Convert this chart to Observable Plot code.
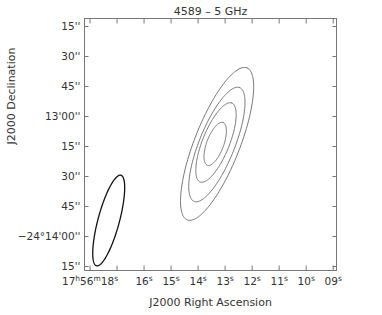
<!DOCTYPE html>
<html>
<head>
<meta charset="utf-8">
<script src="https://cdn.jsdelivr.net/npm/d3@7"></script>
<script src="https://cdn.jsdelivr.net/npm/@observablehq/plot@0.6"></script>
<style>
  html, body { margin: 0; padding: 0; background: #fff; }
  #chart svg { display: block; }
</style>
</head>
<body>
<div id="chart"></div>
<script>
// Title and axis labels
const title = "4589 \u2013 5 GHz";
const xLabel = "J2000 Right Ascension";
const yLabel = "J2000 Declination";

// RA ticks: seconds of 17h56m; labels (h/m/s rendered as superscripts)
const raTicks = [18, 17, 16, 15, 14, 13, 12, 11, 10, 9];
const raLabels = ["17h56m18s", "", "16s", "15s", "14s", "13s", "12s", "11s", "10s", "09s"];

// Dec ticks: arcsec south of -24°12'00''
const decTicks = [15, 30, 45, 60, 75, 90, 105, 120, 135];
const decLabels = ["15''", "30''", "45''", "13'00''", "15''", "30''", "45''", "\u221224\u00b014'00''", "15''"];

// Visible window
const raDomain = [18.204, 8.878];
const decDomain = [137, 11];

// Source contours (elliptical): centre RA (s), centre Dec (arcsec), semi-major, semi-minor (arcsec), PA (deg E of N)
const srcRA = [13.297, 13.305, 13.338, 13.367];
const srcDec = [73.7, 74.0, 73.0, 73.7];
const srcMajor = [40.9, 30.7, 21.3, 11.4];
const srcMinor = [11.5, 9.0, 6.8, 4.3];
const srcPA = [-21.7, -22.1, -22.2, -20.5];

// Beam
const beamRA = [17.308];
const beamDec = [112];
const beamMajor = [23.45];
const beamMinor = [5.4];
const beamPA = [-15.3];

const cosDec = Math.cos(24.22 * Math.PI / 180);

function ellipse(id, ra0, dec0, a, b, pa) {
  const pts = [];
  const p = pa * Math.PI / 180;
  const n = 180;
  for (let k = 0; k <= n; k++) {
    const t = 2 * Math.PI * k / n;
    const u = a * Math.cos(t), v = b * Math.sin(t);
    const dN = u * Math.cos(p) - v * Math.sin(p);
    const dE = u * Math.sin(p) + v * Math.cos(p);
    pts.push({id, ra: ra0 + dE / (15 * cosDec), dec: dec0 - dN});
  }
  return pts;
}

const srcPts = srcRA.flatMap((r, i) => ellipse(i, r, srcDec[i], srcMajor[i], srcMinor[i], srcPA[i]));
const beamPts = beamRA.flatMap((r, i) => ellipse(i, r, beamDec[i], beamMajor[i], beamMinor[i], beamPA[i]));

const textColor = "#333";
const frameColor = "#777";

const chart = Plot.plot({
  width: 382,
  height: 315,
  marginLeft: 84,
  marginRight: 46,
  marginTop: 18,
  marginBottom: 45,
  style: {fontFamily: "DejaVu Sans, sans-serif", fontSize: "10.5px", color: textColor, background: "#fff"},
  x: {domain: raDomain, label: null},
  y: {domain: decDomain, label: null},
  marks: [
    Plot.frame({stroke: frameColor, strokeWidth: 1}),
    Plot.line(srcPts, {x: "ra", y: "dec", z: "id", stroke: "#666", strokeWidth: 0.9}),
    Plot.line(beamPts, {x: "ra", y: "dec", z: "id", stroke: "#111", strokeWidth: 1.3}),
    Plot.axisX(raTicks, {anchor: "bottom", tickSize: -4.5, tickPadding: 12, stroke: frameColor, fill: textColor, label: null,
      tickFormat: d => raLabels[raTicks.indexOf(d)]}),
    Plot.axisX(raTicks, {anchor: "top", tickSize: -4.5, stroke: frameColor, label: null, tickFormat: () => ""}),
    Plot.axisY(decTicks, {anchor: "left", tickSize: -4.5, tickPadding: 8.5, stroke: frameColor, fill: textColor, label: null,
      tickFormat: d => decLabels[decTicks.indexOf(d)]}),
    Plot.axisY(decTicks, {anchor: "right", tickSize: -4.5, stroke: frameColor, label: null, tickFormat: () => ""}),
    Plot.text([title], {text: d => d, frameAnchor: "top", lineAnchor: "middle", dy: -7, fill: textColor, fontSize: 11, ariaLabel: "title"}),
    Plot.text([xLabel], {text: d => d, frameAnchor: "bottom", lineAnchor: "middle", dy: 31.5, fill: textColor, fontSize: 11}),
    Plot.text([yLabel], {text: d => d, frameAnchor: "left", lineAnchor: "middle", dx: -73, rotate: -90, fill: textColor, fontSize: 11})
  ]
});

document.getElementById("chart").appendChild(chart);

d3.select(chart).selectAll('g[aria-label="title"] text').attr("word-spacing", "3px");

// Render h/m/s in RA tick labels as superscripts
d3.select(chart).selectAll('g[aria-label="x-axis tick label"] text').each(function() {
  const s = this.textContent;
  if (!s) return;
  const el = d3.select(this);
  el.text(null);
  const parts = s.match(/\d+|[hms]/g);
  parts.forEach(p => {
    if (/[hms]/.test(p)) {
      el.append("tspan").attr("baseline-shift", "super").attr("font-size", "7.5px").text(p);
    } else {
      el.append("tspan").text(p);
    }
  });
});
</script>
</body>
</html>
